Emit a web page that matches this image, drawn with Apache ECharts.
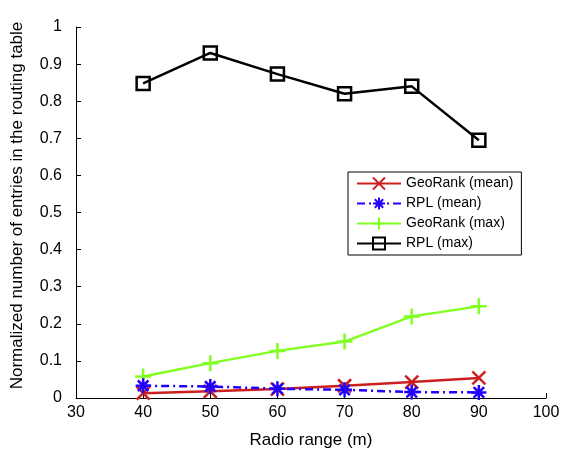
<!DOCTYPE html>
<html><head><meta charset="utf-8">
<script src="https://cdn.jsdelivr.net/npm/echarts@6/dist/echarts.min.js"></script>
<style>html,body{margin:0;padding:0;background:#fff}#c{width:564px;height:457px}</style>
</head><body><div id="c"></div>
<script>
const radio = [40, 50, 60, 70, 80, 90];
const geoMean = [0.013, 0.018, 0.024, 0.033, 0.043, 0.054];
const rplMean = [0.033, 0.031, 0.025, 0.022, 0.016, 0.015];
const geoMax = [0.058, 0.094, 0.127, 0.152, 0.220, 0.247];
const rplMax = [0.848, 0.930, 0.873, 0.820, 0.840, 0.695];
const names = ['GeoRank (mean)', 'RPL (mean)', 'GeoRank (max)', 'RPL (max)'];

const pair = a => radio.map((x, i) => [x, a[i]]);
const font = 'Liberation Sans, Arial, Helvetica, sans-serif';
const X = 'path://M0,0L10,10M10,0L0,10';
const STAR = 'path://M5,0L5,10M0,5L10,5M1.5,1.5L8.5,8.5M8.5,1.5L1.5,8.5';
const PLUS = 'path://M5,0L5,10M0,5L10,5';

const chart = echarts.init(document.getElementById('c'));
chart.setOption({
  animation: false,
  backgroundColor: '#fff',
  textStyle: {fontFamily: font},
  grid: {left: 76, top: 27, width: 470, height: 371, containLabel: false},
  legend: {
    orient: 'vertical', left: 348, top: 172,
    backgroundColor: '#fff', borderColor: '#000', borderWidth: 1,
    padding: [3, 8, 3, 8], itemGap: 3, itemWidth: 44, itemHeight: 15,
    textStyle: {fontSize: 14, color: '#000', fontFamily: font},
    data: names
  },
  xAxis: {
    type: 'value', min: 30, max: 100, interval: 10,
    name: 'Radio range (m)', nameLocation: 'middle', nameGap: 34,
    nameTextStyle: {fontSize: 17, color: '#000', fontFamily: font},
    axisLine: {lineStyle: {color: '#000', width: 1}},
    axisTick: {inside: true, length: 5, lineStyle: {color: '#000'}},
    axisLabel: {fontSize: 16, color: '#000', margin: 7, fontFamily: font},
    splitLine: {show: false}
  },
  yAxis: {
    type: 'value', min: 0, max: 1, interval: 0.1,
    name: 'Normalized number of entries in the routing table', nameLocation: 'middle', nameGap: 50,
    nameTextStyle: {fontSize: 17, color: '#000', fontFamily: font, padding: [0, 0, 0, 14]},
    axisLine: {show: true, lineStyle: {color: '#000', width: 1}},
    axisTick: {show: true, inside: true, length: 5, lineStyle: {color: '#000'}},
    axisLabel: {fontSize: 16, color: '#000', margin: 14, fontFamily: font},
    splitLine: {show: false}
  },
  series: [
    {name: names[0], type: 'line', data: pair(geoMean), symbol: X, symbolSize: 13,
     lineStyle: {color: '#cc1f1f', width: 2.5}, itemStyle: {color: 'none', borderColor: '#cc1f1f', borderWidth: 2.5}, color: '#cc1f1f', z: 3},
    {name: names[1], type: 'line', data: pair(rplMean), symbol: STAR, symbolSize: 15,
     lineStyle: {color: '#2200ff', width: 2.5, type: [8, 4, 2, 4]}, itemStyle: {color: 'none', borderColor: '#2200ff', borderWidth: 2.5}, color: '#2200ff', z: 4},
    {name: names[2], type: 'line', data: pair(geoMax), symbol: PLUS, symbolSize: 16,
     lineStyle: {color: '#80ff20', width: 2.5}, itemStyle: {color: 'none', borderColor: '#80ff20', borderWidth: 2.5}, color: '#80ff20', z: 2},
    {name: names[3], type: 'line', data: pair(rplMax), symbol: 'rect', symbolSize: 13,
     lineStyle: {color: '#000', width: 2.5}, itemStyle: {color: 'none', borderColor: '#000', borderWidth: 2.5}, color: '#000', z: 1}
  ]
});
</script></body></html>
